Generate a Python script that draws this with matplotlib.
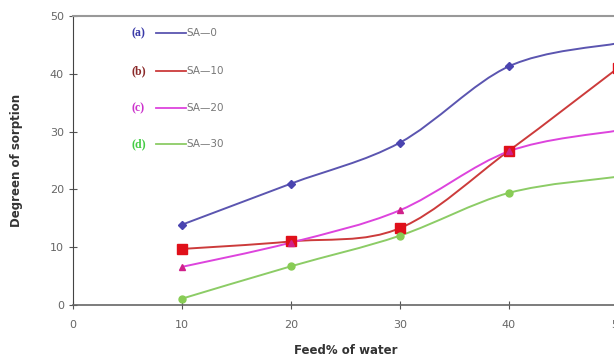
import matplotlib
matplotlib.use("Agg")
import matplotlib.pyplot as plt
from matplotlib.path import Path
from matplotlib.patches import PathPatch
import numpy as np

feed = [10, 20, 30, 40, 50]
sa0 = [13.9, 21.0, 28.1, 41.3, 45.3]
sa10 = [9.7, 11.0, 13.3, 26.7, 41.0]
sa20 = [6.6, 10.8, 16.4, 26.6, 30.2]
sa30 = [1.1, 6.7, 12.0, 19.4, 22.2]
labels = ["SA\u20140", "SA\u201410", "SA\u201420", "SA\u201430"]
tags = ["(a)", "(b)", "(c)", "(d)"]
xticks = [0, 10, 20, 30, 40, 50]
yticks = [0, 10, 20, 30, 40, 50]

colors = ["#5b55b0", "#cc3b3b", "#dd44dd", "#8ccc66"]
tagcolors = ["#3a3aa8", "#8b2a2a", "#cc33cc", "#44cc44"]
markers = ["D", "s", "^", "o"]
msizes = [4, 7, 5, 5]
mcolors = ["#4a44b0", "#e0101a", "#d0208a", "#88cc55"]

fig = plt.figure(figsize=(6.14, 3.6), dpi=100)
ax = fig.add_axes([73/614, 1-305/360, (618-73)/614, (305-16)/360])
ax.set_xlim(0, 50)
ax.set_ylim(0, 50)


def smooth_path(x, y, t=0.5):
    x = np.asarray(x, float); y = np.asarray(y, float)
    verts = [(x[0], y[0])]
    codes = [Path.MOVETO]
    n = len(x)
    for i in range(n - 1):
        p0 = np.array([x[max(i-1, 0)], y[max(i-1, 0)]])
        p1 = np.array([x[i], y[i]])
        p2 = np.array([x[i+1], y[i+1]])
        p3 = np.array([x[min(i+2, n-1)], y[min(i+2, n-1)]])
        c1 = p1 + (p2 - p0) * t / 3
        c2 = p2 - (p3 - p1) * t / 3
        verts += [tuple(c1), tuple(c2), tuple(p2)]
        codes += [Path.CURVE4] * 3
    return Path(verts, codes)


series = [sa0, sa10, sa20, sa30]
for vals, c, m, ms, mc in zip(series, colors, markers, msizes, mcolors):
    patch = PathPatch(smooth_path(feed, vals), facecolor="none", edgecolor=c, lw=1.4,
                      clip_on=False, zorder=3)
    ax.add_patch(patch)
    ax.plot(feed, vals, linestyle="none", marker=m, ms=ms, color=mc, zorder=4, clip_on=False)

ax.spines["right"].set_visible(False)
ax.spines["top"].set_color("#999999")
ax.spines["top"].set_linewidth(1.5)
ax.spines["left"].set_color("#444444")
ax.spines["bottom"].set_color("#666666")
ax.spines["bottom"].set_linewidth(1.2)

ax.set_xticks(xticks)
ax.set_yticks(yticks)
ax.tick_params(direction="inout", length=6, colors="#555555", labelcolor="#666666",
               labelsize=8)
ax.tick_params(axis="x", pad=8)
ax.set_xlabel("Feed% of water", fontsize=8.5, fontweight="bold", color="#333333", labelpad=10)
ax.set_ylabel("Degreen of sorption", fontsize=8.5, fontweight="bold", color="#333333", labelpad=19)

# legend
ly = [33, 71, 108, 144]
for i in range(4):
    y = 1 - ly[i] / 360
    fig.text(131/614, y, tags[i], color=tagcolors[i], fontsize=8.5, fontweight="bold",
             family="Liberation Serif", va="center", ha="left")
    fig.add_artist(plt.Line2D([156/614, 186/614], [y, y], color=colors[i], lw=1.3,
                              transform=fig.transFigure))
    fig.text(186/614, y, labels[i], color="#777777", fontsize=7.5, va="center", ha="left")

fig.savefig("out.png", dpi=100)
